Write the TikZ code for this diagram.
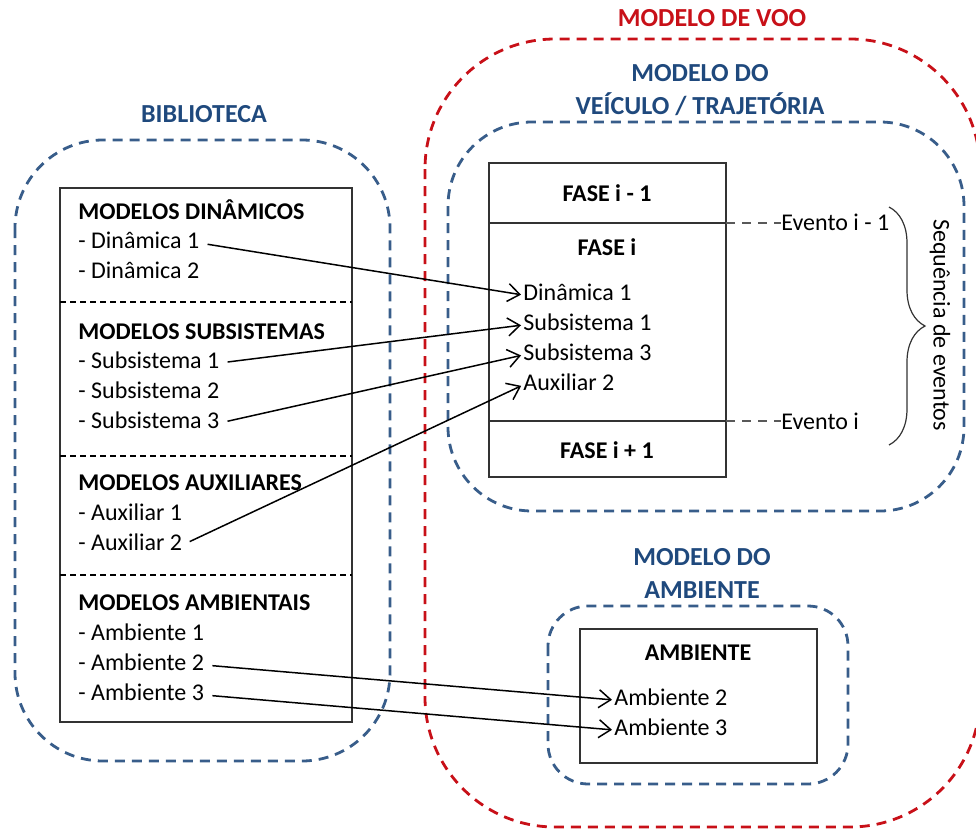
\documentclass[tikz,border=0pt]{standalone}
\usepackage{fontspec}
\setmainfont{Carlito}
\usepackage{xcolor}
\usepackage{tikz}
\usetikzlibrary{arrows.meta,decorations.pathreplacing}
\definecolor{titblue}{RGB}{31,73,125}
\definecolor{dashblue}{RGB}{56,93,138}
\definecolor{vooRed}{RGB}{200,16,24}

\begin{document}
\begin{tikzpicture}[x=0.5pt,y=-0.5pt,font=\fontsize{12}{14}\selectfont,
    title/.style={font=\fontsize{13}{16.5}\selectfont\bfseries,text=titblue,align=center},
    group/.style={draw=dashblue,line width=1.4pt,dash pattern=on 5pt off 3.5pt},
    item/.style={anchor=west,inner sep=0pt,text height=1.5ex,text depth=.25ex,yshift=-1pt},
    head/.style={item,font=\fontsize{12}{14}\selectfont\bfseries},
    phase/.style={inner sep=0pt,font=\fontsize{12}{14}\selectfont\bfseries},
    box/.style={draw=black!80,line width=0.7pt},
    sep/.style={line width=0.8pt,dash pattern=on 3pt off 2pt},
    evdash/.style={draw=black!65,line width=0.8pt,dash pattern=on 4.5pt off 3.5pt},
    link/.style={-{Straight Barb[length=6pt,width=9pt]},line width=0.75pt,shorten <=4pt,shorten >=1pt}]
  \clip (0,0) rectangle (976,830);

  % modelo de voo
  \draw[draw=vooRed,line width=1.4pt,dash pattern=on 5pt off 3.5pt,rounded corners=65pt]
    (425,39) rectangle (980,827);
  \node[font=\fontsize{13}{15}\selectfont\bfseries,text=vooRed] (voo) at (712,18) {MODELO DE VOO};

  % biblioteca
  \draw[group,rounded corners=44pt] (15,140) rectangle (390,761);
  \node[title] (bib) at (204,114) {BIBLIOTECA};
  \draw[box] (60,188) rectangle (352,722);
  \draw[sep] (60,302) -- (352,302);
  \draw[sep] (60,456) -- (352,456);
  \draw[sep] (60,575) -- (352,575);

  \node[head] (hdyn) at (78,212) {MODELOS DINÂMICOS};
  \node[item] (dyn1) at (78,241) {- Dinâmica 1};
  \node[item] (dyn2) at (78,271) {- Dinâmica 2};
  \node[head] (hsub) at (78,332) {MODELOS SUBSISTEMAS};
  \node[item] (sub1) at (78,361) {- Subsistema 1};
  \node[item] (sub2) at (78,391) {- Subsistema 2};
  \node[item] (sub3) at (78,421) {- Subsistema 3};
  \node[head] (haux) at (78,483) {MODELOS AUXILIARES};
  \node[item] (aux1) at (78,513) {- Auxiliar 1};
  \node[item] (aux2) at (78,543) {- Auxiliar 2};
  \node[head] (hamb) at (78,603) {MODELOS AMBIENTAIS};
  \node[item] (amb1) at (78,633) {- Ambiente 1};
  \node[item] (amb2) at (78,663) {- Ambiente 2};
  \node[item] (amb3) at (78,693) {- Ambiente 3};

  % modelo do veiculo / trajetoria
  \draw[group,rounded corners=42pt] (448,122) rectangle (964,511);
  \node[title] (veic) at (700,90) {MODELO DO\\VEÍCULO / TRAJETÓRIA};
  \draw[box] (489,163) rectangle (726,477);
  \coordinate (ev1s) at (726,223);
  \coordinate (ev2s) at (726,421);
  \draw[box] (489,223) -- (ev1s);
  \draw[box] (489,421) -- (ev2s);
  \node[phase] (fprev) at (607,193) {FASE i - 1};
  \node[phase] (fcur) at (607,247) {FASE i};
  \node[phase] (fnext) at (607,450) {FASE i + 1};
  \node[item] (tdyn1) at (523,293) {Dinâmica 1};
  \node[item] (tsub1) at (523,323) {Subsistema 1};
  \node[item] (tsub3) at (523,353) {Subsistema 3};
  \node[item] (taux2) at (523,383) {Auxiliar 2};

  % eventos
  \node[item] (ev1) at (781,223) {Evento i - 1};
  \node[item] (ev2) at (781,422) {Evento i};
  \draw[evdash] (ev1s) -- (ev1s -| ev1.west);
  \draw[evdash] (ev2s) -- (ev2s -| ev2.west);
  \draw[black!80,line width=0.6pt,decorate,decoration={brace,amplitude=18pt}]
    (889,207) -- (889,445);
  \node[rotate=-90] (seq) at (940,325) {Sequência de eventos};

  % modelo do ambiente
  \draw[group,rounded corners=20pt] (548,606) rectangle (848,784);
  \node[title] (amb) at (702,573) {MODELO DO\\AMBIENTE};
  \draw[box] (580,629) rectangle (817,763);
  \node[phase] (hambi) at (698,653) {AMBIENTE};
  \node[item] (tamb2) at (614,698) {Ambiente 2};
  \node[item] (tamb3) at (614,728) {Ambiente 3};

  % ligacoes
  \draw[link] (dyn1.east) -- (tdyn1.west);
  \draw[link] (sub1.east) -- (tsub1.west);
  \draw[link] (sub3.east) -- (tsub3.west);
  \draw[link] (aux2.east) -- (taux2.west);
  \draw[link] (amb2.east) -- (tamb2.west);
  \draw[link] (amb3.east) -- (tamb3.west);
\end{tikzpicture}
\end{document}
